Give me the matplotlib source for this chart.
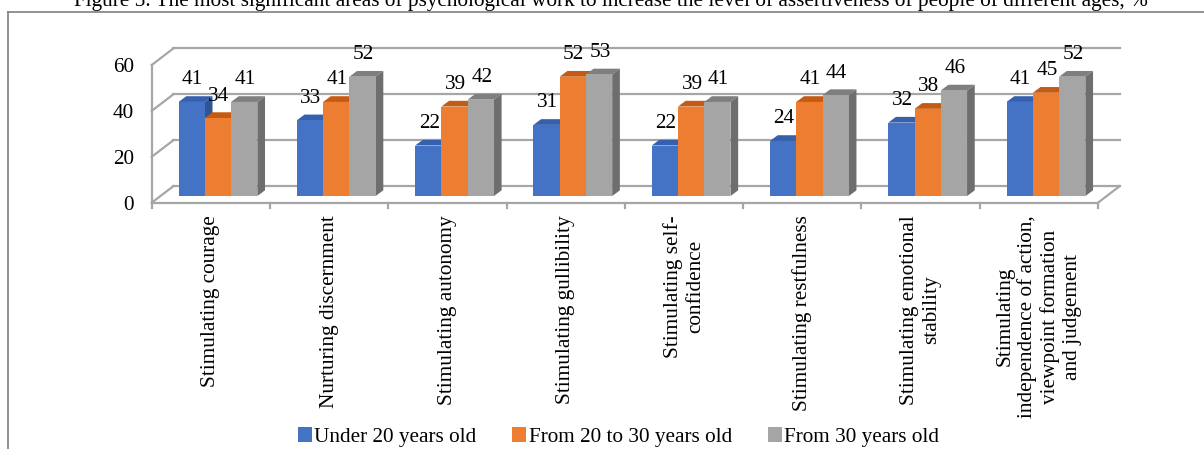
import matplotlib
matplotlib.use('Agg')
import matplotlib.pyplot as plt
from matplotlib.patches import Polygon, Patch
from matplotlib.lines import Line2D
import numpy as np

plt.rcParams['font.family'] = ['Liberation Serif', 'DejaVu Serif']

categories = ['Stimulating courage',
              'Nurturing discernment',
              'Stimulating autonomy',
              'Stimulating gullibility',
              'Stimulating self-\nconfidence',
              'Stimulating restfulness',
              'Stimulating emotional\nstability',
              'Stimulating\nindependence of action,\nviewpoint formation\nand judgement']
under_20 = [41, 33, 22, 31, 22, 24, 32, 41]
from_20_to_30 = [34, 41, 39, 52, 39, 41, 38, 45]
from_30 = [41, 52, 42, 53, 41, 44, 46, 52]
series_names = ['Under 20 years old', 'From 20 to 30 years old', 'From 30 years old']
y_ticks = [0, 20, 40, 60]

title = ('Figure 5. The most significant areas of psychological work to increase '
         'the level of assertiveness of people of different ages, %')

# front / top / side colours per series
colors = [('#4472C4', '#3660AE', '#2F5597'),
          ('#ED7D31', '#C55A11', '#B9530F'),
          ('#A5A5A5', '#7F7F7F', '#6E6E6E')]
grid_c = '#A6A6A6'
fs = 15.3

fig = plt.figure(figsize=(12.04, 4.49), dpi=100)
ax = fig.add_axes([151.7 / 1204, (449 - 202.7) / 449, 946.3 / 1204, 137.7 / 449])
ax.set_xlim(-0.5, 7.5)
ax.set_ylim(0, 60)
for s in ax.spines.values():
    s.set_visible(False)

# 3d offsets in data units
wall_dx, wall_dy = 0.183, 7.2
bar_dx, bar_base = 0.06, 2.9
depth_dx, depth_dy = 0.065, 2.5
w = 0.222

n = len(categories)
x0, x1 = -0.5, n - 0.5

# back wall gridlines and left wall diagonals
for v in y_ticks:
    ax.plot([x0 + wall_dx, x1 + wall_dx], [v + wall_dy, v + wall_dy],
            color=grid_c, lw=1.6, clip_on=False, zorder=1)
    ax.plot([x0, x0 + wall_dx], [v, v + wall_dy],
            color=grid_c, lw=1.6, clip_on=False, zorder=1)
ax.plot([x0, x0], [0, 60], color=grid_c, lw=1.6, clip_on=False, zorder=1)
ax.plot([x0, x1], [0, 0], color=grid_c, lw=1.6, clip_on=False, zorder=1)
ax.plot([x1, x1 + wall_dx], [0, wall_dy], color=grid_c, lw=1.6, clip_on=False, zorder=1)
for k in range(n + 1):
    ax.plot([x0 + k, x0 + k], [0, -2.4], color=grid_c, lw=1.6, clip_on=False, zorder=1)

# bars
all_series = [under_20, from_20_to_30, from_30]
for i in range(n):
    for j, vals in enumerate(all_series):
        h = vals[i]
        left = i + (j - 1) * w - w / 2 + bar_dx
        front, top, side = colors[j]
        ax.add_patch(Polygon([(left, bar_base + h), (left + w, bar_base + h),
                              (left + w + depth_dx, bar_base + h + depth_dy),
                              (left + depth_dx, bar_base + h + depth_dy)],
                             closed=True, fc=top, ec='none', zorder=3, clip_on=False))
        ax.add_patch(Polygon([(left + w, bar_base), (left + w + depth_dx, bar_base + depth_dy),
                              (left + w + depth_dx, bar_base + h + depth_dy),
                              (left + w, bar_base + h)],
                             closed=True, fc=side, ec='none', zorder=3, clip_on=False))
        ax.bar(left, h, width=w, bottom=bar_base, align='edge', color=front,
               zorder=3, clip_on=False)
        ax.annotate(str(h), (left + w / 2, bar_base + h), xytext=(1, 22),
                    textcoords='offset pixels', ha='center', va='center',
                    fontsize=fs, color='black', zorder=5, annotation_clip=False)

ax.set_yticks(y_ticks)
ax.set_yticklabels([str(v) for v in y_ticks], fontsize=fs)
ax.tick_params(axis='y', length=0, pad=13)
ax.set_xticks(np.arange(n))
ax.set_xticklabels(categories, rotation=90, fontsize=fs, va='top', ha='center')
for t in ax.get_xticklabels():
    t.set_multialignment('center')
ax.tick_params(axis='x', length=0, pad=9)

handles = [Patch(facecolor=c[0], edgecolor='none') for c in colors]
fig.legend(handles, series_names, loc='center', bbox_to_anchor=(618.5 / 1204, 1 - 437 / 449),
           ncol=3, frameon=False, fontsize=fs, handlelength=0.66, handleheight=0.66,
           handletextpad=0.1, columnspacing=1.7, borderpad=0)

fig.text(611 / 1204, 1 - 6 / 449, title, ha='center', va='baseline', fontsize=fs)
fig.add_artist(Line2D([8 / 1204, 1], [1 - 12 / 449, 1 - 12 / 449], color='#7F7F7F', lw=1.2))
fig.add_artist(Line2D([8 / 1204, 8 / 1204], [0, 1 - 12 / 449], color='#7F7F7F', lw=1.2))

fig.savefig('out.png', dpi=100)
